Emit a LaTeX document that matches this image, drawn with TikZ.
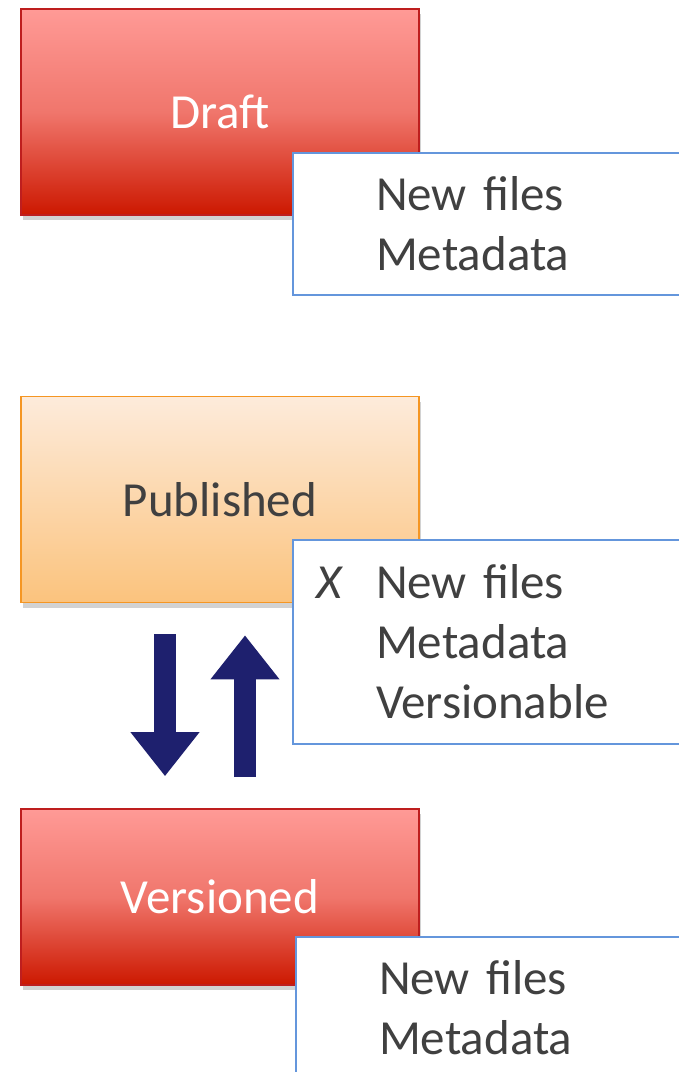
\documentclass[tikz,border=0pt]{standalone}
\usepackage{fontspec}
\setmainfont{Carlito}
\usetikzlibrary{arrows.meta, shadows}

\definecolor{redtop}{RGB}{255,154,150}
\definecolor{redmid}{RGB}{240,118,108}
\definecolor{redbot}{RGB}{204,24,0}
\definecolor{redline}{RGB}{190,30,30}
\definecolor{pubtop}{RGB}{253,235,219}
\definecolor{pubbot}{RGB}{251,195,125}
\definecolor{publine}{RGB}{245,150,35}
\definecolor{infoline}{RGB}{100,150,220}
\definecolor{textgrey}{RGB}{64,64,64}
\definecolor{arrownavy}{RGB}{30,32,110}

\begin{document}
\begin{tikzpicture}[x=0.5pt, y=-0.5pt,
  state/.style={rectangle, minimum width=199pt, inner sep=0pt,
    font=\fontsize{24.5}{30}\selectfont,
    drop shadow={shadow xshift=1pt, shadow yshift=-2.5pt, opacity=.35}},
  redstate/.style={state, draw=redline, line width=0.8pt, text=white,
    top color=redtop, bottom color=redbot, middle color=redmid},
  pubstate/.style={state, draw=publine, line width=0.8pt, text=textgrey,
    top color=pubtop, bottom color=pubbot},
  info/.style={rectangle, draw=infoline, line width=1pt, fill=white,
    anchor=north west, align=left, text width=125pt, inner xsep=41.5pt,
    inner ysep=0pt, text=textgrey, font=\fontsize{24.5}{30}\selectfont},
  bigarrow/.style={draw=arrownavy, line width=11pt,
    -{Triangle[length=22pt, width=33pt]}}]

  % page
  \clip (0,0) rectangle (679,1072);
  \fill[white] (0,0) rectangle (679,1072);

  % states
  \node[redstate, minimum height=103pt] (draft) at (220,112) {Draft};
  \node[pubstate, minimum height=103pt] (pub) at (220,499.5) {Published};
  \node[redstate, minimum height=88pt] (ver) at (220,897) {Versioned};

  % what can change in each state
  \node[info, minimum height=71pt] (infodraft) at (292,152) {New files\\Metadata};
  \node[info, minimum height=102pt] (infopub) at (292,539)
    {\llap{\textit{X}\hspace{16pt}}New files\\Metadata\\Versionable};
  \node[info, minimum height=71pt] (infover) at (295,936) {New files\\Metadata};

  % publish / new version
  \draw[bigarrow, shorten <=15.5pt, shorten >=16pt]
    ([xshift=-27.5pt]pub.south) -- ([xshift=-27.5pt]ver.north);
  \draw[bigarrow, shorten <=15.5pt, shorten >=16pt]
    ([xshift=12.5pt]ver.north) -- ([xshift=12.5pt]pub.south);
\end{tikzpicture}
\end{document}
